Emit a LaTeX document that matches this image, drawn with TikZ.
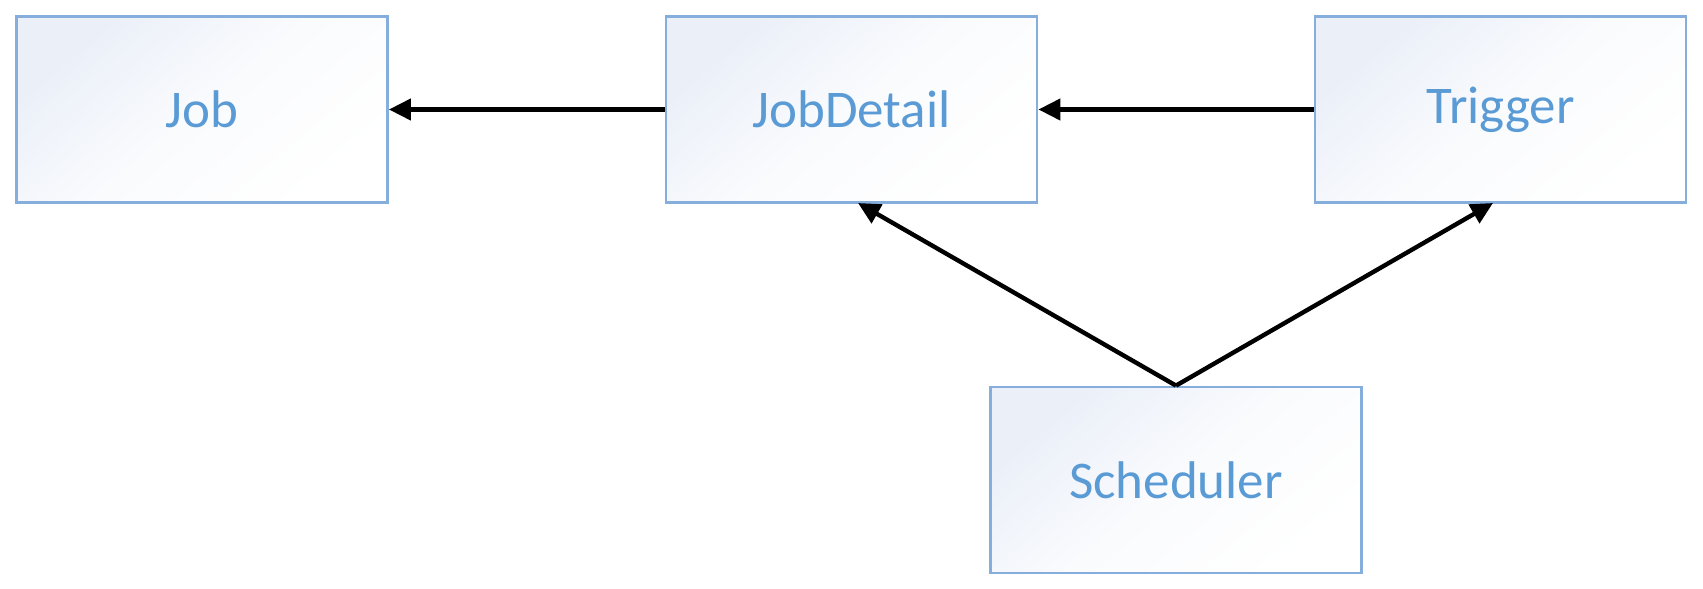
\documentclass[tikz,border=0pt]{standalone}
\usepackage{fontspec}
\setmainfont{Carlito}
\usetikzlibrary{arrows.meta}
\definecolor{boxborder}{HTML}{86AEDC}
\definecolor{boxtop}{HTML}{EAEFF8}
\definecolor{textblue}{HTML}{5B9BD5}
\tikzset{
  box/.style={draw=boxborder, line width=2.8pt, minimum width=371pt, minimum height=186pt,
    inner sep=0pt, shading=axis, top color=boxtop, bottom color=white, middle color=white!75!boxtop, shading angle=40,
    text=textblue, font=\fontsize{53}{58}\selectfont},
  conn/.style={line width=4.4pt, -{Triangle[length=22pt,width=21pt]}}
}
\begin{document}
\begin{tikzpicture}[x=1pt,y=-1pt]
\useasboundingbox (0,0) rectangle (1703,589);
\fill[white] (0,0) rectangle (1703,589);
\node[box] (job) at (202,109.5) {Job};
\node[box] (jd) at (851.5,109.5) {JobDetail};
\node[box] (tr) at (1500.5,109.5) {Trigger};
\node[box] (sch) at (1176,480) {Scheduler};
\draw[conn] (jd.west) -- (job.east);
\draw[conn] (tr.west) -- (jd.east);
\coordinate (apex) at (sch.north);
\draw[conn] (apex) -- (858,203);
\draw[conn] (apex) -- (1493,203);
\end{tikzpicture}
\end{document}
